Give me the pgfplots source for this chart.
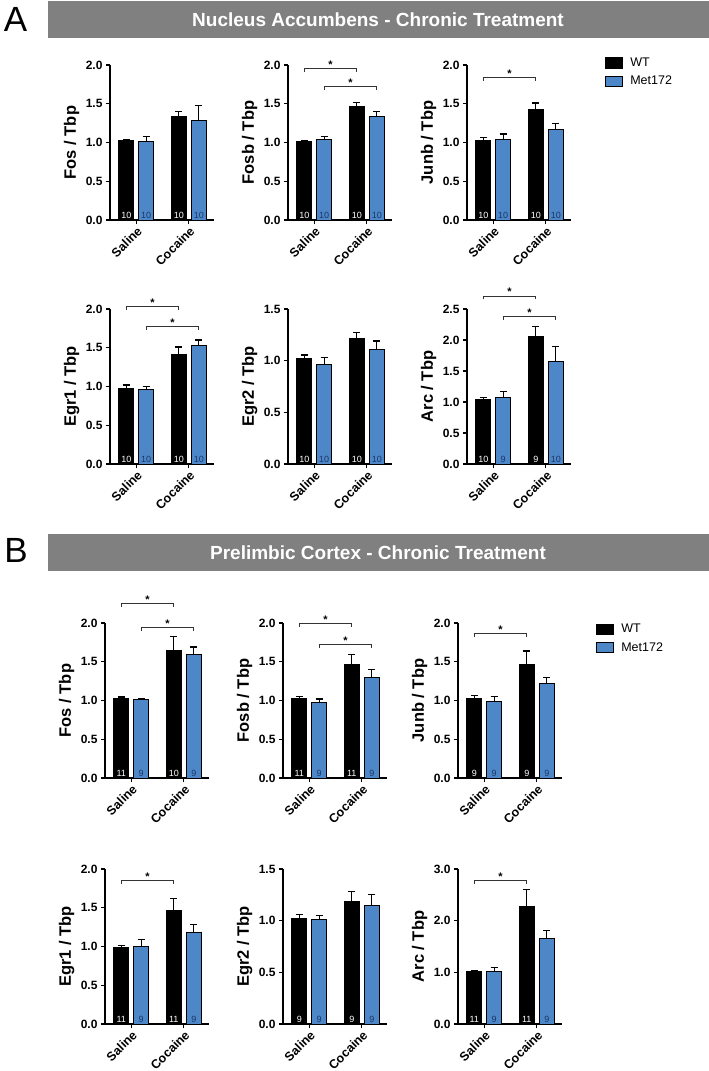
\documentclass[border=0pt]{standalone}
\usepackage{fontspec}
\setmainfont{Liberation Sans}
\usepackage{pgfplots}
\pgfplotsset{compat=1.18}
\definecolor{metblue}{RGB}{78,135,199}
\definecolor{numblue}{RGB}{25,55,105}
\definecolor{hdrgray}{RGB}{128,128,128}

\pgfplotsset{
 panel/.style={
   scale only axis, width=104pt, height=155pt,
   xmin=-0.5, xmax=1.48, ymin=0,
   axis lines=left, axis line style={-, line width=1.3pt, black},
   tick style={line width=1.3pt, black},
   major tick length=4pt, tick align=outside,
   xtick={0,1}, xticklabels={Saline,Cocaine},
   xticklabel style={rotate=45, anchor=north east, inner sep=1pt, font=\bfseries\fontsize{12.5}{13}\selectfont},
   yticklabel style={font=\bfseries\fontsize{12}{12}\selectfont, /pgf/number format/.cd, fixed, fixed zerofill, precision=1, assume math mode=true},
   ylabel style={at={(axis description cs:-0.37,0.5)}, anchor=center, font=\bfseries\fontsize{16.5}{17}\selectfont},
   clip=false,
 },
 wt/.style={ybar, bar width=0.29, bar shift=0pt, fill=black, draw=black, line width=1pt, forget plot,
   error bars/y dir=plus, error bars/y explicit,
   error bars/error bar style={line width=1.2pt, black},
   error bars/error mark options={rotate=90, mark size=3.5pt, line width=1.2pt, black}},
 mt/.style={ybar, bar width=0.29, bar shift=0pt, fill=metblue, draw=black, line width=1pt, forget plot,
   error bars/y dir=plus, error bars/y explicit,
   error bars/error bar style={line width=1.2pt, black},
   error bars/error mark options={rotate=90, mark size=3.5pt, line width=1.2pt, black}},
 nw/.style={only marks, mark=none, forget plot, nodes near coords, point meta=explicit symbolic,
   nodes near coords style={anchor=south, inner sep=1pt, font=\fontsize{9}{9}\selectfont, text=white}},
 nm/.style={only marks, mark=none, forget plot, nodes near coords, point meta=explicit symbolic,
   nodes near coords style={anchor=south, inner sep=1pt, font=\fontsize{9}{9}\selectfont, text=numblue}},
}

\newcommand{\sigwt}[1]{%
 \draw[line width=0.9pt, black!80] ([yshift=-3.5pt]axis cs:-0.19,#1) -- (axis cs:-0.19,#1) -- (axis cs:0.81,#1) -- ([yshift=-3.5pt]axis cs:0.81,#1);
 \node[anchor=base, inner sep=0pt, font=\bfseries\fontsize{11}{11}\selectfont] at (axis cs:0.31,#1) {*};}
\newcommand{\sigmet}[1]{%
 \draw[line width=0.9pt, black!80] ([yshift=-3.5pt]axis cs:0.19,#1) -- (axis cs:0.19,#1) -- (axis cs:1.19,#1) -- ([yshift=-3.5pt]axis cs:1.19,#1);
 \node[anchor=base, inner sep=0pt, font=\bfseries\fontsize{11}{11}\selectfont] at (axis cs:0.69,#1) {*};}

\begin{document}
\begin{tikzpicture}
\path[use as bounding box] (0pt,0pt) rectangle (709pt,-1071pt);

% Headers
\fill[hdrgray] (48pt,-1pt) rectangle (709pt,-38pt);
\node[text=white, font=\bfseries\fontsize{19}{20}\selectfont] at (378pt,-19.5pt) {Nucleus Accumbens - Chronic Treatment};
\node[font=\fontsize{35}{35}\selectfont, inner sep=0pt] at (15.5pt,-19.5pt) {A};
\fill[hdrgray] (48pt,-534pt) rectangle (709pt,-571pt);
\node[text=white, font=\bfseries\fontsize{19}{20}\selectfont] at (378pt,-552.5pt) {Prelimbic Cortex - Chronic Treatment};
\node[font=\fontsize{35}{35}\selectfont, inner sep=0pt] at (16pt,-550pt) {B};

%%%%%%%%%%%%%%%% A row 1
\begin{axis}[panel, at={(110pt,-220pt)}, anchor=south west, ymax=2, ytick={0,0.5,1,1.5,2}, ylabel={Fos / Tbp}]
\addplot[wt] coordinates {(-0.19,1.02) +- (0,0.02) (0.81,1.33) +- (0,0.07)};
\addplot[mt] coordinates {(0.19,1.01) +- (0,0.07) (1.19,1.29) +- (0,0.19)};
\addplot[nw] coordinates {(-0.19,0) [10] (0.81,0) [10]};
\addplot[nm] coordinates {(0.19,0) [10] (1.19,0) [10]};
\end{axis}

\begin{axis}[panel, at={(288pt,-220pt)}, anchor=south west, ymax=2, ytick={0,0.5,1,1.5,2}, ylabel={Fosb / Tbp}]
\addplot[wt] coordinates {(-0.19,1.01) +- (0,0.01) (0.81,1.47) +- (0,0.05)};
\addplot[mt] coordinates {(0.19,1.04) +- (0,0.04) (1.19,1.34) +- (0,0.06)};
\addplot[nw] coordinates {(-0.19,0) [10] (0.81,0) [10]};
\addplot[nm] coordinates {(0.19,0) [10] (1.19,0) [10]};
\sigwt{1.96}
\sigmet{1.72}
\end{axis}

\begin{axis}[panel, at={(467pt,-220pt)}, anchor=south west, ymax=2, ytick={0,0.5,1,1.5,2}, ylabel={Junb / Tbp},
  legend image code/.code={\draw[#1, line width=1.1pt, draw=black] (0pt,-5pt) rectangle (17pt,5pt);},
  legend style={at={(rel axis cs:1.327,1.06)}, anchor=north west, draw=none, fill=none, inner sep=0pt, row sep=4pt,
    font=\fontsize{12.5}{13}\selectfont, nodes={inner sep=2pt},
    /tikz/every odd column/.append style={column sep=5pt}}, legend cell align=left]
\addlegendimage{fill=black}
\addlegendimage{fill=metblue}
\addplot[wt] coordinates {(-0.19,1.03) +- (0,0.03) (0.81,1.43) +- (0,0.08)};
\addplot[mt] coordinates {(0.19,1.04) +- (0,0.07) (1.19,1.17) +- (0,0.08)};
\addplot[nw] coordinates {(-0.19,0) [10] (0.81,0) [10]};
\addplot[nm] coordinates {(0.19,0) [10] (1.19,0) [10]};
\sigwt{1.84}
\legend{WT, Met172}
\end{axis}

%%%%%%%%%%%%%%%% A row 2
\begin{axis}[panel, at={(110pt,-464pt)}, anchor=south west, ymax=2, ytick={0,0.5,1,1.5,2}, ylabel={Egr1 / Tbp}]
\addplot[wt] coordinates {(-0.19,0.97) +- (0,0.05) (0.81,1.41) +- (0,0.10)};
\addplot[mt] coordinates {(0.19,0.96) +- (0,0.04) (1.19,1.53) +- (0,0.07)};
\addplot[nw] coordinates {(-0.19,0) [10] (0.81,0) [10]};
\addplot[nm] coordinates {(0.19,0) [10] (1.19,0) [10]};
\sigwt{2.03}
\sigmet{1.78}
\end{axis}

\begin{axis}[panel, at={(288pt,-464pt)}, anchor=south west, ymax=1.5, ytick={0,0.5,1,1.5}, ylabel={Egr2 / Tbp}]
\addplot[wt] coordinates {(-0.19,1.02) +- (0,0.035) (0.81,1.21) +- (0,0.06)};
\addplot[mt] coordinates {(0.19,0.96) +- (0,0.07) (1.19,1.11) +- (0,0.08)};
\addplot[nw] coordinates {(-0.19,0) [10] (0.81,0) [10]};
\addplot[nm] coordinates {(0.19,0) [10] (1.19,0) [10]};
\end{axis}

\begin{axis}[panel, at={(467pt,-464pt)}, anchor=south west, ymax=2.5, ytick={0,0.5,1,1.5,2,2.5}, ylabel={Arc / Tbp}]
\addplot[wt] coordinates {(-0.19,1.035) +- (0,0.035) (0.81,2.05) +- (0,0.17)};
\addplot[mt] coordinates {(0.19,1.07) +- (0,0.10) (1.19,1.66) +- (0,0.23)};
\addplot[nw] coordinates {(-0.19,0) [10] (0.81,0) [9]};
\addplot[nm] coordinates {(0.19,0) [9] (1.19,0) [10]};
\sigwt{2.71}
\sigmet{2.38}
\end{axis}

%%%%%%%%%%%%%%%% B row 1
\begin{axis}[panel, at={(105pt,-778pt)}, anchor=south west, ymax=2, ytick={0,0.5,1,1.5,2}, ylabel={Fos / Tbp}]
\addplot[wt] coordinates {(-0.19,1.03) +- (0,0.015) (0.81,1.65) +- (0,0.18)};
\addplot[mt] coordinates {(0.19,1.01) +- (0,0.02) (1.19,1.59) +- (0,0.10)};
\addplot[nw] coordinates {(-0.19,0) [11] (0.81,0) [10]};
\addplot[nm] coordinates {(0.19,0) [9] (1.19,0) [9]};
\sigwt{2.25}
\sigmet{1.94}
\end{axis}

\begin{axis}[panel, at={(283pt,-778pt)}, anchor=south west, ymax=2, ytick={0,0.5,1,1.5,2}, ylabel={Fosb / Tbp}]
\addplot[wt] coordinates {(-0.19,1.02) +- (0,0.03) (0.81,1.47) +- (0,0.12)};
\addplot[mt] coordinates {(0.19,0.98) +- (0,0.04) (1.19,1.30) +- (0,0.10)};
\addplot[nw] coordinates {(-0.19,0) [11] (0.81,0) [11]};
\addplot[nm] coordinates {(0.19,0) [9] (1.19,0) [9]};
\sigwt{2.0}
\sigmet{1.72}
\end{axis}

\begin{axis}[panel, at={(458pt,-778pt)}, anchor=south west, ymax=2, ytick={0,0.5,1,1.5,2}, ylabel={Junb / Tbp},
  legend image code/.code={\draw[#1, line width=1.1pt, draw=black] (0pt,-5pt) rectangle (17pt,5pt);},
  legend style={at={(rel axis cs:1.327,1.006)}, anchor=north west, draw=none, fill=none, inner sep=0pt, row sep=4pt,
    font=\fontsize{12.5}{13}\selectfont, nodes={inner sep=2pt},
    /tikz/every odd column/.append style={column sep=5pt}}, legend cell align=left]
\addlegendimage{fill=black}
\addlegendimage{fill=metblue}
\addplot[wt] coordinates {(-0.19,1.02) +- (0,0.04) (0.81,1.46) +- (0,0.18)};
\addplot[mt] coordinates {(0.19,0.99) +- (0,0.06) (1.19,1.22) +- (0,0.08)};
\addplot[nw] coordinates {(-0.19,0) [9] (0.81,0) [9]};
\addplot[nm] coordinates {(0.19,0) [9] (1.19,0) [9]};
\sigwt{1.87}
\legend{WT, Met172}
\end{axis}

%%%%%%%%%%%%%%%% B row 2
\begin{axis}[panel, at={(105pt,-1024pt)}, anchor=south west, ymax=2, ytick={0,0.5,1,1.5,2}, ylabel={Egr1 / Tbp}]
\addplot[wt] coordinates {(-0.19,0.99) +- (0,0.02) (0.81,1.47) +- (0,0.15)};
\addplot[mt] coordinates {(0.19,1.00) +- (0,0.09) (1.19,1.18) +- (0,0.10)};
\addplot[nw] coordinates {(-0.19,0) [11] (0.81,0) [11]};
\addplot[nm] coordinates {(0.19,0) [9] (1.19,0) [9]};
\sigwt{1.85}
\end{axis}

\begin{axis}[panel, at={(283pt,-1024pt)}, anchor=south west, ymax=1.5, ytick={0,0.5,1,1.5}, ylabel={Egr2 / Tbp}]
\addplot[wt] coordinates {(-0.19,1.02) +- (0,0.04) (0.81,1.19) +- (0,0.09)};
\addplot[mt] coordinates {(0.19,1.01) +- (0,0.04) (1.19,1.15) +- (0,0.10)};
\addplot[nw] coordinates {(-0.19,0) [9] (0.81,0) [9]};
\addplot[nm] coordinates {(0.19,0) [9] (1.19,0) [9]};
\end{axis}

\begin{axis}[panel, at={(458pt,-1024pt)}, anchor=south west, ymax=3, ytick={0,1,2,3}, ylabel={Arc / Tbp}]
\addplot[wt] coordinates {(-0.19,1.02) +- (0,0.01) (0.81,2.28) +- (0,0.33)};
\addplot[mt] coordinates {(0.19,1.01) +- (0,0.09) (1.19,1.65) +- (0,0.16)};
\addplot[nw] coordinates {(-0.19,0) [11] (0.81,0) [11]};
\addplot[nm] coordinates {(0.19,0) [9] (1.19,0) [9]};
\sigwt{2.78}
\end{axis}

\end{tikzpicture}
\end{document}
